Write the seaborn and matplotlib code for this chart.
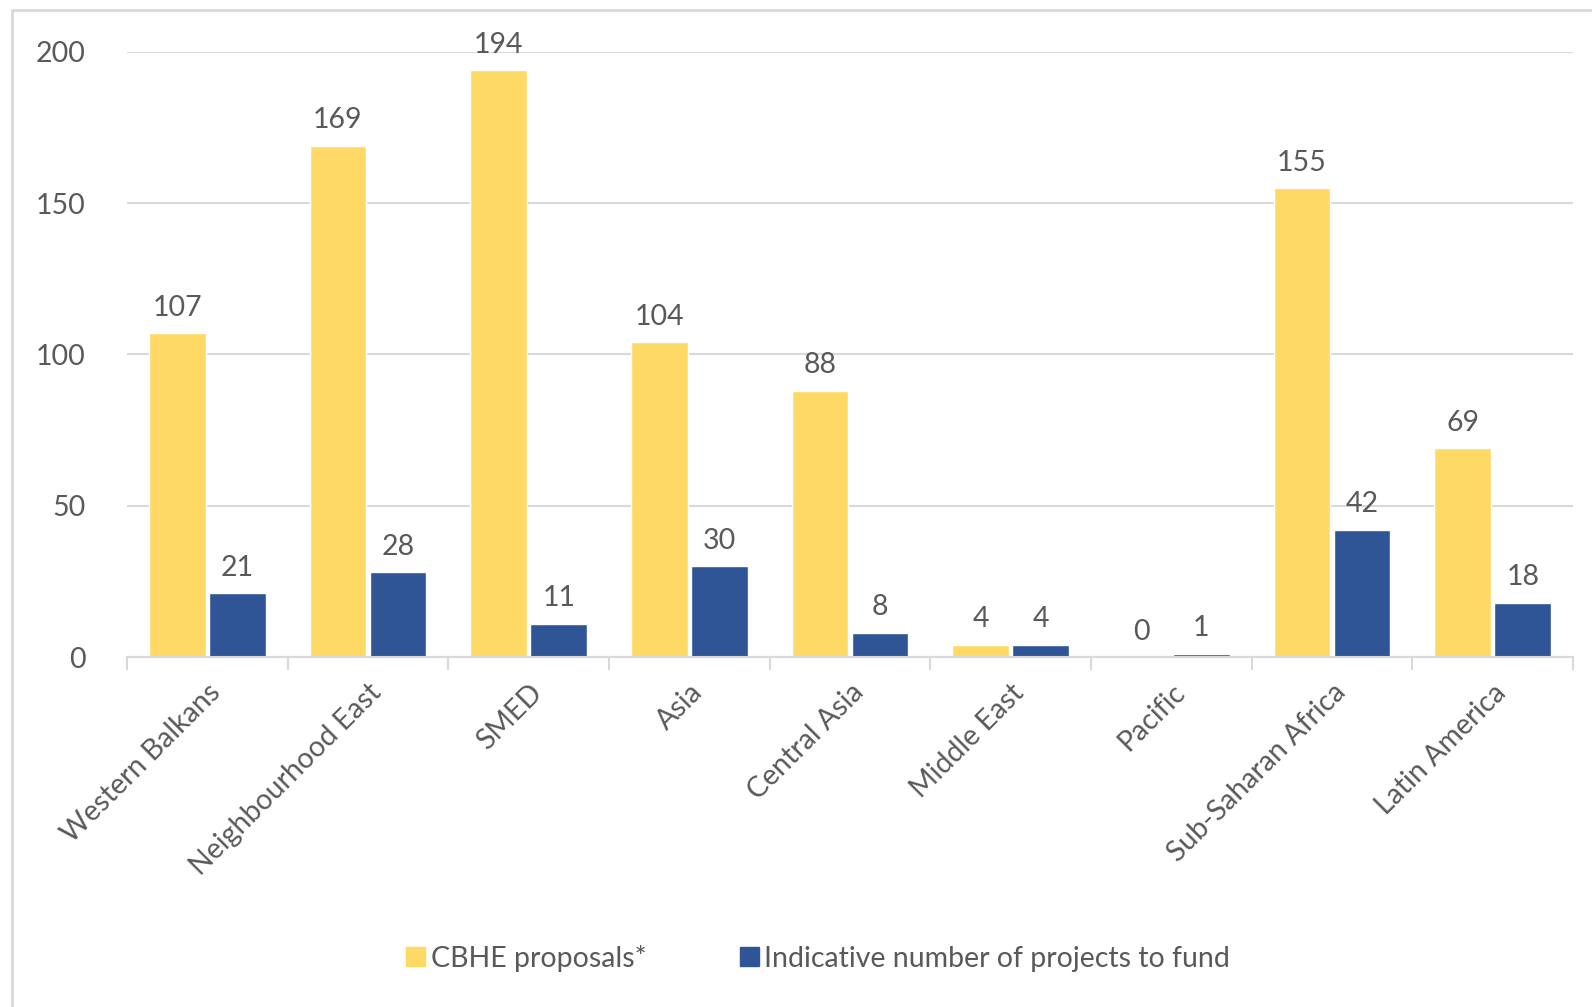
import numpy as np
import pandas as pd
import matplotlib
matplotlib.use('Agg')
import matplotlib.pyplot as plt
import matplotlib.patches as mpatches
import seaborn as sns

regions = ['Western Balkans', 'Neighbourhood East', 'SMED', 'Asia', 'Central Asia',
           'Middle East', 'Pacific', 'Sub-Saharan Africa', 'Latin America']
proposals = [107, 169, 194, 104, 88, 4, 0, 155, 69]
to_fund = [21, 28, 11, 30, 8, 4, 1, 42, 18]
series = ['CBHE proposals*', 'Indicative number of projects to fund']
yticks = [0, 50, 100, 150, 200]

df = pd.DataFrame({
    'region': regions * 2,
    'value': proposals + to_fund,
    'series': [series[0]] * len(regions) + [series[1]] * len(regions),
})

sns.set_theme(style='white')
plt.rcParams['font.family'] = ['Lato', 'DejaVu Sans']
text_col = '#595959'
fs = 20.5
palette = {series[0]: '#FFD966', series[1]: '#2F5597'}

fig = plt.figure(figsize=(15.92, 10.07), dpi=100)
ax = fig.add_axes([127/1592, 1 - 657/1007, (1573 - 127)/1592, (657 - 52)/1007])

sns.barplot(data=df, x='region', y='value', hue='series', palette=palette,
            width=0.75, gap=0.06, saturation=1, ax=ax, legend=False)

ax.set_ylim(0, 200)
ax.set_xlim(-0.5, 8.5 + (1573 - 1550*1592/1568)/(1425*1592/1568/9))
ax.set_yticks(yticks)
ax.set_yticklabels([str(t) for t in yticks], fontsize=fs, color=text_col)
ax.tick_params(axis='y', length=0, pad=30)
ax.yaxis.grid(True, color='#d9d9d9', lw=1.5)
ax.set_axisbelow(True)

# category boundary tick marks
ax.set_xticks(np.arange(len(regions)))
ax.set_xticks(np.arange(-0.5, len(regions)), minor=True)
ax.tick_params(axis='x', which='major', length=0, pad=16)
ax.tick_params(axis='x', which='minor', length=9, width=1.5, color='#d9d9d9', bottom=True)
ax.set_xticklabels(regions, rotation=45, ha='right', rotation_mode='anchor',
                   fontsize=fs, color=text_col)
for lbl in ax.get_xticklabels():
    lbl.set_va('top')

ax.set_xlabel('')
ax.set_ylabel('')
for s in ['top', 'right', 'left']:
    ax.spines[s].set_visible(False)
ax.spines['bottom'].set_color('#d9d9d9')
ax.spines['bottom'].set_linewidth(1.5)

for cont in ax.containers:
    ax.bar_label(cont, fmt='%d', padding=9, fontsize=fs, color=text_col, clip_on=False)

handles = [mpatches.Patch(color=palette[s], label=s) for s in series]
fig.legend(handles=handles, loc='center', bbox_to_anchor=(0.514, 1 - 958/1007),
           ncol=2, frameon=False, fontsize=fs, handlelength=0.65, handleheight=0.65,
           handletextpad=0.2, columnspacing=3.3, labelcolor=text_col)

# outer chart border
fig.patches.append(mpatches.Rectangle((12/1592, -0.05), 1.2, 1 - 10/1007 + 0.05,
                                      transform=fig.transFigure, fill=False,
                                      edgecolor='#d9d9d9', lw=2))

fig.savefig('out.png', dpi=100)
